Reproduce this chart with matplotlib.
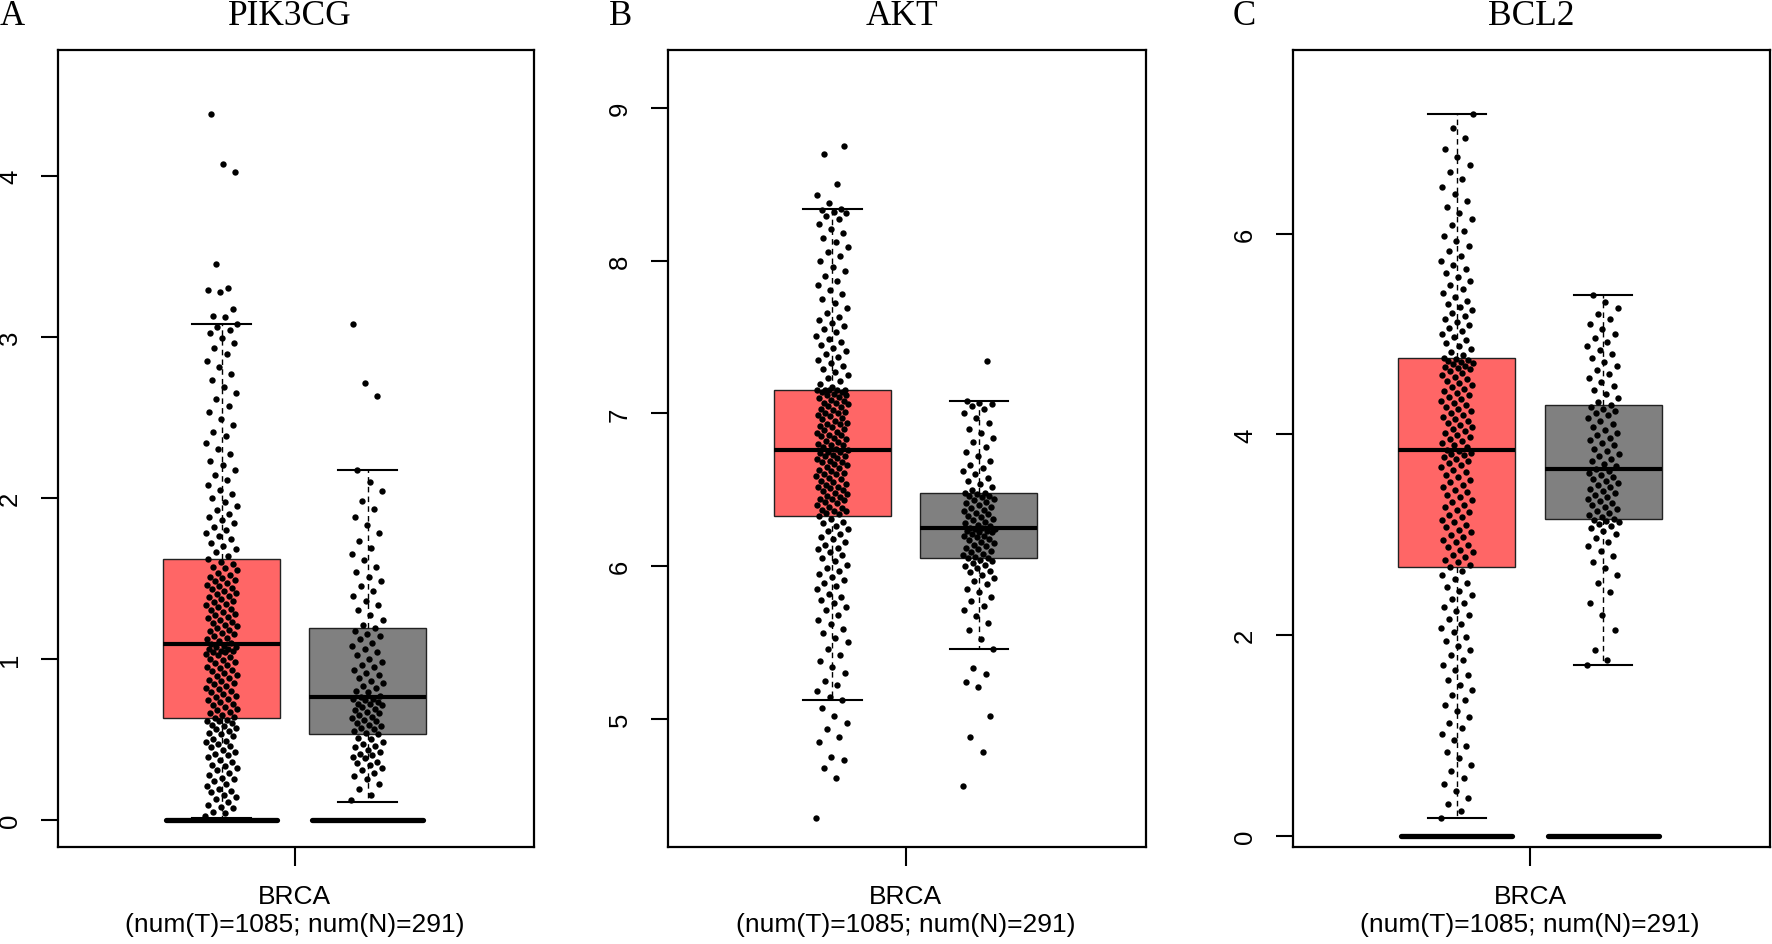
import numpy as np
import matplotlib.pyplot as plt

# ---- data ----
genes = ["PIK3CG", "AKT", "BCL2"]
letters = ["A", "B", "C"]
cancer = "BRCA"
n_tumor, n_normal = 1085, 291

# box stats per gene: [tumor, normal]
q1 = [[0.63, 0.53], [6.33, 6.05], [2.68, 3.16]]
med = [[1.09, 0.76], [6.76, 6.25], [3.85, 3.66]]
q3 = [[1.62, 1.19], [7.15, 6.48], [4.76, 4.29]]
whislo = [[0.01, 0.11], [5.12, 5.46], [0.18, 1.70]]
whishi = [[3.08, 2.17], [8.34, 7.08], [7.19, 5.39]]
zero_group = [True, False, True]   # samples stuck at 0 (drawn as thick bar)

yticks = [[0, 1, 2, 3, 4], [5, 6, 7, 8, 9], [0, 2, 4, 6]]
ylims = [(-0.17, 4.78), (4.16, 9.38), (-0.11, 7.83)]

# jittered sample values (estimated from the point clouds)
pik3cg_tumor = [
    0.02, 0.04, 0.05, 0.07, 0.08, 0.09, 0.11, 0.13, 0.14, 0.15, 0.17, 0.18, 0.19, 0.21, 0.22,
    0.24, 0.25, 0.26, 0.28, 0.29, 0.31, 0.32, 0.33, 0.34, 0.36, 0.37, 0.39, 0.40, 0.41, 0.42,
    0.43, 0.45, 0.46, 0.47, 0.48, 0.49, 0.50, 0.52, 0.53, 0.54, 0.55, 0.56, 0.57, 0.58, 0.59,
    0.60, 0.61, 0.61, 0.62, 0.63,
    0.64, 0.65, 0.66, 0.67, 0.68, 0.69, 0.70, 0.71, 0.72, 0.73, 0.74, 0.75, 0.76, 0.77, 0.78,
    0.79, 0.80, 0.81, 0.82, 0.83, 0.84, 0.85, 0.86, 0.87, 0.88, 0.89, 0.90, 0.91, 0.92, 0.93,
    0.94, 0.95, 0.96, 0.97, 0.98, 0.99, 1.00, 1.01, 1.02, 1.03, 1.04, 1.04, 1.05, 1.05, 1.06,
    1.06, 1.07, 1.07, 1.08, 1.09,
    1.10, 1.11, 1.12, 1.13, 1.14, 1.15, 1.16, 1.17, 1.18, 1.19, 1.20, 1.21, 1.22, 1.23, 1.24,
    1.25, 1.26, 1.27, 1.28, 1.29, 1.30, 1.31, 1.32, 1.33, 1.34, 1.35, 1.36, 1.37, 1.38, 1.39,
    1.40, 1.41, 1.42, 1.43, 1.44, 1.45, 1.46, 1.47, 1.48, 1.49, 1.50, 1.51, 1.52, 1.53, 1.55,
    1.56, 1.57, 1.59, 1.60, 1.62,
    1.64, 1.66, 1.68, 1.70, 1.72, 1.74, 1.76, 1.78, 1.80, 1.82, 1.84, 1.86, 1.88, 1.90, 1.92,
    1.95, 1.97, 2.00, 2.02, 2.05, 2.08, 2.11, 2.14, 2.17, 2.20, 2.23, 2.27, 2.30, 2.34, 2.38,
    2.41, 2.45, 2.49, 2.53, 2.57, 2.61, 2.65, 2.69, 2.73, 2.77, 2.81, 2.85, 2.89, 2.93, 2.96,
    2.99, 3.02, 3.04, 3.06, 3.08,
    3.12, 3.13, 3.17, 3.28, 3.29, 3.30, 3.45, 4.02, 4.07, 4.38,
]
pik3cg_normal = [
    0.12, 0.15, 0.19, 0.22, 0.25, 0.27, 0.29, 0.31, 0.32, 0.34, 0.35, 0.36, 0.38, 0.39, 0.40,
    0.41, 0.42, 0.43, 0.45, 0.46, 0.47, 0.48, 0.50, 0.51, 0.53,
    0.54, 0.55, 0.56, 0.57, 0.58, 0.59, 0.60, 0.61, 0.62, 0.63, 0.64, 0.65, 0.66, 0.67, 0.68,
    0.69, 0.70, 0.71, 0.72, 0.72, 0.73, 0.74, 0.75, 0.75, 0.76,
    0.77, 0.79, 0.80, 0.82, 0.83, 0.85, 0.86, 0.88, 0.90, 0.91, 0.93, 0.95, 0.96, 0.98, 1.00,
    1.02, 1.04, 1.06, 1.08, 1.10, 1.12, 1.14, 1.15, 1.17, 1.19,
    1.21, 1.24, 1.27, 1.30, 1.33, 1.36, 1.39, 1.42, 1.45, 1.48, 1.51, 1.54, 1.57, 1.61, 1.65,
    1.69, 1.73, 1.78, 1.83, 1.88, 1.93, 1.98, 2.04, 2.10, 2.17,
    2.63, 2.71, 3.08,
]
akt_tumor = [
    4.35, 4.61, 4.68, 4.73, 4.75, 4.85, 4.88, 4.93, 4.97, 5.02, 5.07,
    5.12, 5.14, 5.18, 5.22, 5.25, 5.30, 5.34, 5.38, 5.42, 5.46, 5.50, 5.53, 5.56, 5.59, 5.62,
    5.65, 5.68, 5.71, 5.73, 5.76, 5.78, 5.80, 5.82, 5.85, 5.87, 5.89, 5.91, 5.93, 5.95, 5.97,
    5.99, 6.01, 6.03, 6.05, 6.07, 6.09, 6.11, 6.12, 6.14, 6.16, 6.18, 6.19, 6.21, 6.23, 6.24,
    6.26, 6.28, 6.29, 6.31, 6.33,
    6.34, 6.35, 6.36, 6.36, 6.37, 6.38, 6.39, 6.40, 6.41, 6.42, 6.43, 6.44, 6.44, 6.45, 6.46,
    6.47, 6.48, 6.49, 6.50, 6.51, 6.52, 6.52, 6.53, 6.54, 6.55, 6.56, 6.57, 6.58, 6.59, 6.60,
    6.60, 6.61, 6.62, 6.63, 6.64, 6.65, 6.66, 6.67, 6.68, 6.68, 6.69, 6.70, 6.71, 6.72, 6.72,
    6.73, 6.74, 6.75, 6.75, 6.76,
    6.77, 6.78, 6.79, 6.79, 6.80, 6.81, 6.82, 6.83, 6.84, 6.85, 6.86, 6.86, 6.87, 6.88, 6.89,
    6.90, 6.91, 6.92, 6.93, 6.93, 6.94, 6.95, 6.96, 6.97, 6.98, 6.99, 7.00, 7.00, 7.01, 7.02,
    7.03, 7.04, 7.05, 7.06, 7.07, 7.07, 7.08, 7.09, 7.10, 7.11, 7.12, 7.12, 7.13, 7.14, 7.14,
    7.15, 7.15, 7.15, 7.15, 7.15,
    7.17, 7.19, 7.21, 7.23, 7.25, 7.27, 7.29, 7.31, 7.33, 7.35, 7.37, 7.39, 7.41, 7.43, 7.45,
    7.47, 7.49, 7.51, 7.53, 7.55, 7.57, 7.59, 7.61, 7.63, 7.66, 7.69, 7.72, 7.75, 7.78, 7.81,
    7.84, 7.87, 7.90, 7.93, 7.96, 8.00, 8.03, 8.06, 8.09, 8.12, 8.15, 8.18, 8.21, 8.24, 8.27,
    8.29, 8.31, 8.32, 8.33, 8.34,
    8.38, 8.43, 8.50, 8.70, 8.75,
]
akt_normal = [
    4.56, 4.78, 4.88, 5.02, 5.21, 5.24, 5.29, 5.33,
    5.46, 5.52, 5.58, 5.63, 5.67, 5.71, 5.74, 5.77, 5.80, 5.83, 5.85, 5.88, 5.90, 5.92, 5.94,
    5.96, 5.97, 5.99, 6.00, 6.01, 6.02, 6.03, 6.04, 6.05, 6.05,
    6.06, 6.07, 6.08, 6.09, 6.10, 6.11, 6.12, 6.13, 6.14, 6.15, 6.16, 6.17, 6.18, 6.19, 6.20,
    6.20, 6.21, 6.22, 6.22, 6.23, 6.23, 6.24, 6.24, 6.25, 6.25,
    6.26, 6.27, 6.28, 6.29, 6.30, 6.31, 6.32, 6.33, 6.34, 6.35, 6.36, 6.37, 6.38, 6.39, 6.40,
    6.41, 6.42, 6.43, 6.44, 6.45, 6.46, 6.46, 6.47, 6.48, 6.48,
    6.50, 6.52, 6.54, 6.56, 6.58, 6.60, 6.62, 6.64, 6.66, 6.69, 6.72, 6.75, 6.78, 6.81, 6.84,
    6.87, 6.90, 6.94, 6.97, 7.00, 7.03, 7.05, 7.06, 7.07, 7.08,
    7.34,
]
bcl2_tumor = [
    0.18, 0.25, 0.32, 0.38, 0.45, 0.52, 0.58, 0.65, 0.71, 0.78, 0.84, 0.90, 0.96, 1.02, 1.08,
    1.13, 1.19, 1.24, 1.30, 1.35, 1.40, 1.45, 1.50, 1.55, 1.60, 1.65, 1.70, 1.75, 1.80, 1.85,
    1.89, 1.94, 1.98, 2.03, 2.07, 2.11, 2.16, 2.20, 2.24, 2.28, 2.32, 2.36, 2.40, 2.44, 2.48,
    2.52, 2.56, 2.60, 2.64, 2.68,
    2.70, 2.73, 2.75, 2.78, 2.80, 2.83, 2.85, 2.88, 2.90, 2.93, 2.95, 2.98, 3.00, 3.03, 3.05,
    3.08, 3.10, 3.13, 3.15, 3.18, 3.20, 3.23, 3.25, 3.28, 3.30, 3.33, 3.35, 3.38, 3.40, 3.43,
    3.45, 3.48, 3.50, 3.53, 3.55, 3.58, 3.60, 3.63, 3.65, 3.68, 3.70, 3.72, 3.74, 3.76, 3.78,
    3.80, 3.81, 3.82, 3.84, 3.85,
    3.87, 3.89, 3.91, 3.93, 3.95, 3.97, 3.99, 4.01, 4.03, 4.05, 4.07, 4.09, 4.11, 4.13, 4.15,
    4.17, 4.19, 4.21, 4.23, 4.25, 4.27, 4.29, 4.31, 4.33, 4.35, 4.37, 4.39, 4.41, 4.43, 4.45,
    4.47, 4.49, 4.51, 4.53, 4.55, 4.57, 4.59, 4.61, 4.63, 4.65, 4.66, 4.67, 4.68, 4.70, 4.71,
    4.72, 4.73, 4.74, 4.75, 4.76,
    4.79, 4.82, 4.85, 4.88, 4.91, 4.94, 4.97, 5.00, 5.03, 5.06, 5.09, 5.12, 5.15, 5.18, 5.21,
    5.24, 5.27, 5.30, 5.33, 5.37, 5.41, 5.45, 5.49, 5.53, 5.57, 5.61, 5.65, 5.69, 5.73, 5.78,
    5.83, 5.88, 5.93, 5.98, 6.03, 6.09, 6.15, 6.21, 6.27, 6.33, 6.40, 6.47, 6.54, 6.61, 6.68,
    6.76, 6.84, 6.95, 7.05, 7.19,
]
bcl2_normal = [
    1.70, 1.75, 1.85, 2.05, 2.20, 2.32, 2.43, 2.52, 2.60, 2.67, 2.73, 2.79, 2.84, 2.89, 2.93,
    2.97, 3.01, 3.04, 3.07, 3.09, 3.11, 3.13, 3.14, 3.15, 3.16,
    3.18, 3.20, 3.22, 3.24, 3.26, 3.28, 3.30, 3.32, 3.34, 3.36, 3.38, 3.40, 3.42, 3.44, 3.46,
    3.48, 3.50, 3.52, 3.54, 3.56, 3.58, 3.60, 3.62, 3.64, 3.66,
    3.69, 3.71, 3.74, 3.76, 3.79, 3.81, 3.84, 3.86, 3.89, 3.91, 3.94, 3.96, 3.99, 4.01, 4.04,
    4.07, 4.10, 4.13, 4.16, 4.19, 4.21, 4.23, 4.25, 4.27, 4.29,
    4.32, 4.36, 4.40, 4.44, 4.48, 4.52, 4.56, 4.60, 4.64, 4.68, 4.72, 4.76, 4.80, 4.84, 4.88,
    4.92, 4.96, 5.00, 5.05, 5.10, 5.15, 5.20, 5.26, 5.32, 5.39,
]
points = [[pik3cg_tumor, pik3cg_normal], [akt_tumor, akt_normal], [bcl2_tumor, bcl2_normal]]

# ---- style / layout ----
box_colors = ["#FF6666", "#808080"]
positions = [-0.5, 0.5]
axes_px = [(58, 534), (668, 1146), (1293, 1770)]   # left/right edges in pixels
title_px = [290, 902, 1531]
letter_px = [12, 621, 1244]
W, H = 1772, 945
plt.rcParams["font.family"] = ["Liberation Sans", "DejaVu Sans"]

fig = plt.figure(figsize=(W / 100, H / 100), dpi=100)

for g in range(3):
    l, r = axes_px[g]
    ax = fig.add_axes([l / W, (H - 848) / H, (r - l) / W, (848 - 51) / H])

    stats = []
    for k in range(2):
        stats.append(dict(med=med[g][k], q1=q1[g][k], q3=q3[g][k],
                          whislo=whislo[g][k], whishi=whishi[g][k], fliers=[]))
    bp = ax.bxp(stats, positions=positions, widths=0.8, capwidths=0.4,
                patch_artist=True, showfliers=False,
                boxprops=dict(edgecolor="#222222", linewidth=1.0),
                whiskerprops=dict(color="black", linewidth=1.0, linestyle=(0, (4, 3))),
                capprops=dict(color="black", linewidth=1.5),
                medianprops=dict(color="black", linewidth=3.0, solid_capstyle="butt"))
    for patch, c in zip(bp["boxes"], box_colors):
        patch.set_facecolor(c)

    if zero_group[g]:
        for p in positions:
            ax.plot([p - 0.38, p + 0.38], [0, 0], color="black", lw=3.8,
                    solid_capstyle="round", zorder=3)

    # jitter points: golden-ratio spread across the strip
    for k in range(2):
        vals = np.array(points[g][k])
        offs = ((np.arange(len(vals)) * 0.6180339887) % 1.0 - 0.5) * 0.22
        ax.scatter(positions[k] + offs, vals, s=21, color="black", linewidths=0, zorder=4)

    ax.set_xlim(-1.62, 1.64)
    ax.set_ylim(*ylims[g])
    ax.set_yticks(yticks[g])
    ax.set_yticklabels([str(t) for t in yticks[g]], rotation=90, va="center", fontsize=18.5)
    ax.set_xticks([0])
    ax.set_xticklabels([f"{cancer}\n(num(T)={n_tumor}; num(N)={n_normal})"],
                       fontsize=19, linespacing=1.2)
    ax.tick_params(axis="y", length=12, width=1.5, pad=14)
    ax.tick_params(axis="x", length=14, width=1.5, pad=13)
    for s in ax.spines.values():
        s.set_linewidth(1.6)

    fig.text(title_px[g] / W, 1 - 25 / H, genes[g], ha="center", va="baseline",
             fontsize=25.5, family="Liberation Serif")
    fig.text(letter_px[g] / W, 1 - 25 / H, letters[g], ha="center", va="baseline",
             fontsize=25, family="Liberation Serif")

fig.savefig("out.png", dpi=100)
